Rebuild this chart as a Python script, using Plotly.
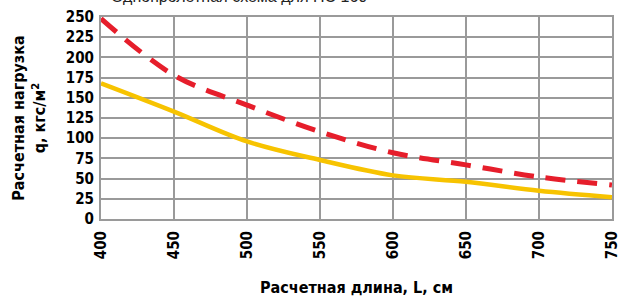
import plotly.graph_objects as go

lengths = [400, 450, 500, 550, 600, 650, 700, 750]
load_dashed = [248, 178, 141, 108, 82, 67, 52, 42]
load_solid = [168, 133, 96, 73, 54, 46, 35, 27]
y_ticks = [0, 25, 50, 75, 100, 125, 150, 175, 200, 225, 250]

FONT = "DejaVu Sans Condensed, Liberation Sans Narrow, Arial"

fig = go.Figure()
fig.add_trace(go.Scatter(x=lengths, y=load_solid, mode="lines",
                         line=dict(color="#f7c300", width=4.5, shape="spline", smoothing=1.0)))
fig.add_trace(go.Scatter(x=lengths, y=load_dashed, mode="lines",
                         line=dict(color="#e61e2b", width=5, dash="20px,12px", shape="spline", smoothing=1.0)))

fig.update_layout(
    width=618, height=298,
    margin=dict(l=101, r=6, t=17, b=79),
    paper_bgcolor="white", plot_bgcolor="white",
    showlegend=False,
    font=dict(family=FONT, color="black"),
    xaxis=dict(range=[400, 750.05], tickvals=lengths, ticktext=[str(v) for v in lengths],
               tickangle=-90, showgrid=True, gridcolor="#9a9a9a", gridwidth=2, automargin=False,
               showline=True, linecolor="#9a9a9a", linewidth=2, mirror=True, zeroline=False,
               ticklabeloverflow="allow",
               tickfont=dict(size=15, family=FONT, weight="bold"), ticks="", ticklabelstandoff=4,
               title=dict(text="Расчетная длина, L, см", font=dict(size=16, family=FONT, weight="bold"), standoff=24)),
    yaxis=dict(range=[0, 250], tickvals=y_ticks, showgrid=True, gridcolor="#9a9a9a", gridwidth=2, automargin=False,
               showline=True, linecolor="#9a9a9a", linewidth=2, mirror=True, zeroline=False,
               tickfont=dict(size=15, family=FONT, weight="bold"), ticks="", ticklabelstandoff=2,
               title=dict(text="Расчетная нагрузка<br>q, кгс/м<sup>2</sup>", font=dict(size=16, family=FONT, weight="bold"), standoff=16)),
)
fig.add_annotation(text="Однопролетная схема для НС 160", xref="paper", yref="paper",
                   x=0.27, y=1 + 10 / 202, yanchor="bottom", xanchor="center", showarrow=False,
                   font=dict(size=16, family="Liberation Sans, Arial", color="#222"))
fig.write_html("out.html", config={"displayModeBar": False},
               post_script="document.body.style.margin='0';document.body.style.padding='0';")
